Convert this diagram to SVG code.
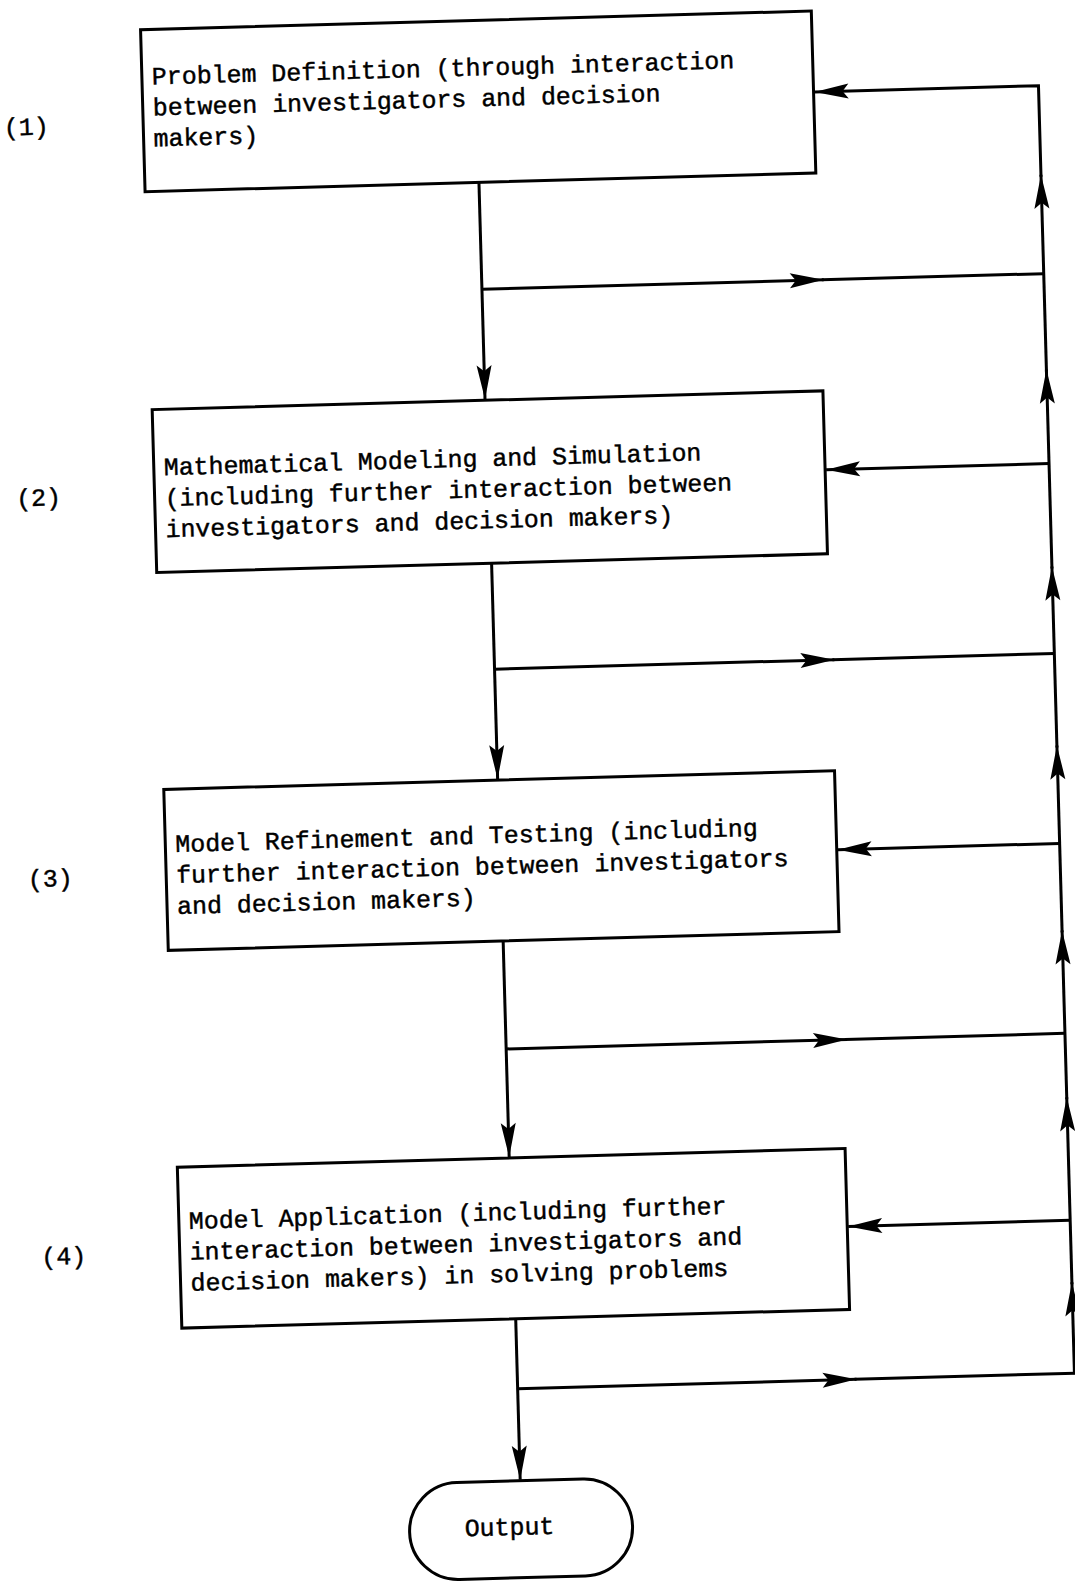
<svg xmlns="http://www.w3.org/2000/svg" xmlns:xlink="http://www.w3.org/1999/xlink" width="1075" height="1584" viewBox="0 0 1075 1584">
  <style>
    .box { fill: #fff; stroke: #000; stroke-width: 3; }
    .txt { font-family: "Liberation Mono", "Courier New", monospace; font-size: 24.9px; fill: #000; stroke: #000; stroke-width: 0.45; }
    .num { text-anchor: middle; }
    .wire { fill: none; stroke: #000; stroke-width: 3; }
    .arrow { marker-end: url(#head); }
  </style>
  <defs>
    <!-- long narrow typewriter-era arrowhead, tip at the path end -->
    <marker id="head" viewBox="-36 -9 37 18" refX="0" refY="0" markerWidth="37" markerHeight="18" markerUnits="userSpaceOnUse" orient="auto">
      <path d="M0,0 L-34,-7.5 L-28,0 L-34,7.5 Z" fill="#000"/>
    </marker>
  </defs>
  <rect width="1075" height="1584" fill="#fff"/>

  <!-- the whole sheet sits slightly askew -->
  <g transform="rotate(-1.6 537 792)">

    <g id="connectors">
      <!-- main downward flow -->
      <path class="wire arrow" d="M496,181 V398"/>
      <path class="wire arrow" d="M498,562 V778"/>
      <path class="wire arrow" d="M499,940 V1156"/>
      <path class="wire arrow" d="M501,1318 V1479"/>

      <!-- branches to the feedback trunk -->
      <path class="wire arrow" d="M496,288 H838"/>
      <path class="wire" d="M836,288 H1058"/>
      <path class="wire arrow" d="M498,668 H838"/>
      <path class="wire" d="M836,668 H1058"/>
      <path class="wire arrow" d="M499,1048 H840"/>
      <path class="wire" d="M838,1048 H1058"/>
      <path class="wire arrow" d="M501,1388 H840"/>
      <path class="wire" d="M838,1388 H1059"/>

      <!-- feedback trunk running upward -->
      <path class="wire arrow" d="M1058,1389 V1297"/>
      <path class="wire arrow" d="M1058,1299 V1112"/>
      <path class="wire arrow" d="M1058,1114 V945"/>
      <path class="wire arrow" d="M1058,947 V760"/>
      <path class="wire arrow" d="M1058,762 V581"/>
      <path class="wire arrow" d="M1058,583 V384"/>
      <path class="wire arrow" d="M1058,386 V189"/>
      <path class="wire arrow" d="M1058,191 V100 H834"/>

      <!-- feedback into each stage -->
      <path class="wire arrow" d="M1058,478 H835"/>
      <path class="wire arrow" d="M1058,858 H836"/>
      <path class="wire arrow" d="M1058,1235 H836"/>
    </g>

    <g id="stage1">
      <rect class="box" x="162" y="19" width="671" height="162"/>
      <text class="txt" x="172" y="74">Problem Definition (through interaction</text>
      <text class="txt" x="172" y="105">between investigators and decision</text>
      <text class="txt" x="172" y="136">makers)</text>
      <text class="txt num" x="45" y="121">(1)</text>
    </g>

    <g id="stage2">
      <rect class="box" x="163" y="399" width="671" height="163"/>
      <text class="txt" x="173" y="465">Mathematical Modeling and Simulation</text>
      <text class="txt" x="173" y="496">(including further interaction between</text>
      <text class="txt" x="173" y="527">investigators and decision makers)</text>
      <text class="txt num" x="47" y="492">(2)</text>
    </g>

    <g id="stage3">
      <rect class="box" x="164" y="779" width="671" height="161"/>
      <text class="txt" x="174" y="842">Model Refinement and Testing (including</text>
      <text class="txt" x="174" y="873">further interaction between investigators</text>
      <text class="txt" x="174" y="904">and decision makers)</text>
      <text class="txt num" x="48" y="873">(3)</text>
    </g>

    <g id="stage4">
      <rect class="box" x="167" y="1157" width="668" height="161"/>
      <text class="txt" x="177" y="1219">Model Application (including further</text>
      <text class="txt" x="177" y="1250">interaction between investigators and</text>
      <text class="txt" x="177" y="1281">decision makers) in solving problems</text>
      <text class="txt num" x="51" y="1251">(4)</text>
    </g>

    <g id="output">
      <rect class="box" x="389" y="1480" width="223" height="97" rx="48.5" ry="48.5"/>
      <text class="txt num" x="489" y="1534">Output</text>
    </g>
  </g>
</svg>
